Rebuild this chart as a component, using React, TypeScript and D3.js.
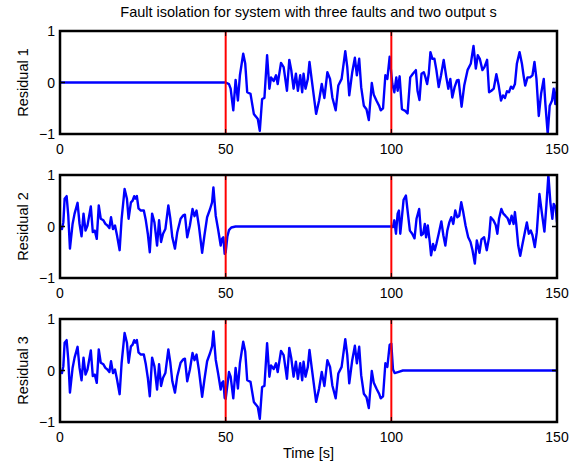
import React from "react"
import * as d3 from "d3"

type Pt = [number, number]

// noise seen in residual 2 and residual 3 before the first fault
const noiseA: Pt[] = [
  [0, -0.01], [0.6, -0.05], [1.0, 0.08], [1.4, 0.54], [2.0, 0.59], [2.5, 0.21],
  [3.0, -0.43], [3.8, 0.05], [4.4, 0.25], [5.3, 0.46], [5.9, 0.05], [6.5, -0.19],
  [7.1, 0.25], [7.7, -0.08], [8.3, 0.02], [9.3, 0.39], [9.9, -0.11], [10.5, -0.08],
  [11.1, -0.24], [11.7, 0.41], [12.3, 0.15], [13.1, 0.12], [13.7, 0.05], [14.3, 0.02],
  [14.9, -0.03], [15.4, 0.18], [16.0, -0.05], [16.6, 0.02], [17.2, -0.17], [18.0, -0.46],
  [18.6, 0.15], [19.5, 0.73], [20.2, 0.54], [20.7, 0.15], [21.4, 0.47], [21.9, 0.5],
  [22.4, 0.59], [22.7, 0.54], [23.2, 0.59], [23.7, 0.35], [24.4, 0.31], [25.3, 0.31],
  [25.9, 0.12], [26.5, -0.14], [27.1, -0.5], [27.8, 0.25], [28.5, 0.08], [29.3, -0.37],
  [29.9, 0.12], [30.5, -0.3], [31.1, -0.14], [31.8, -0.05], [32.7, 0.41], [33.3, 0.15],
  [33.9, -0.21], [34.7, -0.43], [35.4, -0.11], [36.4, 0.15], [37.1, 0.21], [37.7, 0.23],
  [38.4, -0.21], [39.2, 0.02], [40.0, 0.34], [40.6, 0.2], [41.2, 0.31], [41.9, 0.02],
  [42.9, -0.51], [43.6, -0.17], [44.4, 0.18], [45.3, 0.34], [45.9, 0.47], [46.3, 0.76],
  [47.0, 0.21], [47.7, -0.05], [48.5, -0.37], [48.9, -0.24], [49.3, -0.21], [49.7, -0.53],
]

// noise seen in residual 1 and residual 3 between the faults
const noiseB: Pt[] = [
  [51.0, -0.03], [51.5, -0.12], [52.3, -0.54], [53.0, 0.05], [53.7, -0.35], [54.3, 0.14],
  [55.3, 0.56], [55.9, 0.37], [56.5, -0.19], [57.5, -0.22], [58.5, -0.61], [59.7, -0.71],
  [60.3, -0.94], [61.0, -0.32], [61.7, -0.3], [62.5, 0.53], [63.2, -0.12], [63.7, 0.1],
  [64.5, 0.03], [65.2, 0.14], [65.7, -0.03], [66.7, 0.38], [67.5, 0.3], [68.5, -0.16],
  [69.2, 0.44], [69.8, 0.24], [70.5, -0.12], [71.2, 0.17], [71.8, -0.16], [72.5, 0.14],
  [73.1, -0.19], [73.5, 0.17], [74.1, -0.12], [74.8, 0.07], [75.3, 0.4], [76.0, 0.04],
  [77.3, -0.61], [78.2, -0.35], [79.0, -0.03], [79.8, -0.3], [80.7, 0.2], [81.5, 0.07],
  [82.2, -0.29], [83.2, -0.54], [84.0, -0.06], [85.0, 0.07], [86.1, 0.61], [86.7, 0.3],
  [87.3, -0.25], [88.2, 0.2], [89.0, 0.48], [89.6, 0.14], [90.3, 0.46], [90.9, -0.09],
  [91.7, -0.45], [92.5, -0.52], [93.2, -0.73], [94.1, -0.01], [94.7, -0.24], [95.5, -0.35],
  [96.3, -0.45], [96.8, -0.54], [97.5, -0.5], [98.2, 0.14], [98.8, 0.07], [99.5, 0.5],
]

const res1Late: Pt[] = [
  [100.3, -0.03], [100.9, -0.19], [101.5, 0.1], [101.9, -0.16], [102.5, 0.12], [103.2, -0.52],
  [104.2, -0.55], [104.9, -0.6], [105.7, 0.1], [106.5, 0.17], [107.4, 0.24], [107.9, -0.16],
  [108.5, -0.34], [109.1, 0.17], [109.8, 0.2], [110.3, 0.1], [110.8, -0.03], [111.3, 0.17],
  [111.8, 0.59], [112.4, 0.46], [113.0, 0.46], [113.6, 0.24], [114.3, -0.09], [115.0, 0.14],
  [115.8, 0.44], [116.6, 0.1], [117.2, -0.12], [117.8, 0.07], [118.4, -0.29], [119.1, -0.09],
  [119.8, 0.04], [120.3, 0.05], [121.2, -0.47], [122.0, -0.06], [123.0, 0.24], [124.0, 0.37],
  [124.8, 0.71], [125.5, 0.27], [126.1, 0.53], [126.7, 0.46], [127.5, 0.24], [128.1, 0.3],
  [128.9, 0.44], [129.5, -0.19], [130.2, -0.16], [130.9, -0.12], [131.7, 0.16], [132.4, -0.06],
  [133.1, -0.35], [133.7, -0.25], [134.3, -0.3], [134.9, -0.17], [135.5, -0.19], [136.1, -0.08],
  [136.7, -0.12], [137.3, -0.03], [137.9, 0.37], [138.7, 0.59], [139.4, 0.37], [139.9, 0.14],
  [140.4, -0.06], [141.1, 0.1], [141.9, 0.1], [142.6, 0.14], [143.2, 0.4], [143.8, 0.07],
  [144.5, -0.65], [145.2, -0.22], [146.0, 0.07], [146.5, -0.42], [147.2, -1.0], [147.8, -0.45],
  [148.5, -0.35], [149.0, -0.12], [149.5, -0.42], [150.0, -0.09],
]

const res2Late: Pt[] = [
  [100.5, -0.01], [100.9, 0.12], [101.4, -0.14], [101.9, 0.25], [102.3, 0.31], [102.7, -0.14],
  [103.1, 0.12], [103.7, 0.52], [104.4, 0.6], [104.9, 0.31], [105.6, -0.08], [106.3, -0.14],
  [107.0, -0.23], [107.6, 0.15], [108.4, 0.34], [109.0, -0.17], [109.6, -0.14], [110.1, 0.05],
  [110.5, -0.21], [111.0, 0.02], [111.6, -0.3], [112.0, -0.56], [112.6, -0.34], [113.1, -0.46],
  [113.6, -0.34], [114.3, -0.14], [115.1, 0.1], [115.7, -0.17], [116.3, -0.37], [116.9, -0.08],
  [117.5, 0.08], [118.1, 0.18], [118.7, 0.05], [119.3, 0.31], [119.9, 0.18], [120.5, 0.21],
  [121.1, 0.47], [121.7, 0.28], [122.4, 0.02], [123.2, -0.21], [123.9, -0.3], [124.5, -0.46],
  [125.2, -0.72], [125.8, -0.27], [126.6, -0.51], [127.2, -0.25], [128.0, -0.21], [128.8, -0.46],
  [129.5, -0.21], [130.0, 0.18], [130.8, 0.12], [131.5, 0.03], [132.0, -0.14], [132.5, 0.15],
  [133.2, 0.34], [133.8, 0.25], [134.4, 0.21], [135.1, 0.16], [135.7, 0.05], [136.3, 0.21],
  [136.9, 0.05], [137.3, 0.28], [137.7, 0.05], [138.3, -0.37], [138.9, -0.57], [139.5, -0.37],
  [140.3, -0.11], [140.9, 0.08], [141.5, -0.14], [142.1, -0.08], [142.6, -0.17], [143.3, -0.4],
  [143.9, -0.11], [144.7, 0.63], [145.4, 0.28], [146.2, -0.1], [146.8, 0.41], [147.4, 1.0],
  [148.0, 0.47], [148.6, 0.15], [149.0, 0.44], [149.6, 0.37], [150.0, 0.08],
]

// decay after a residual becomes insensitive to the fault
const res2Decay: Pt[] = [[50, -0.5], [50.5, -0.2], [51, -0.07], [51.7, -0.02], [53, 0], [100, 0]]
const res3Decay: Pt[] = [[100, 0.52], [100.5, 0.02], [101, -0.05], [102, -0.03], [103.5, 0], [150, 0]]

const residuals: { label: string; points: Pt[] }[] = [
  { label: "Residual 1", points: [[0, 0], [50, 0], ...noiseB, ...res1Late] },
  { label: "Residual 2", points: [...noiseA, ...res2Decay, ...res2Late] },
  { label: "Residual 3", points: [...noiseA, [50, -0.55], ...noiseB, ...res3Decay] },
]

const faultTimes = [50, 100]
const xTicks = [0, 50, 100, 150]
const yTicks = [-1, 0, 1]
const title = "Fault isolation for system with three faults and two output s"
const xLabel = "Time [s]"

const W = 576
const H = 465
const left = 60
const right = 557
const panelTop = [31, 175, 319]
const panelH = 103
const font = "'Liberation Sans', Arial, Helvetica, sans-serif"

const x = d3.scaleLinear().domain([0, 150]).range([left, right])

const Panel = ({ label, points, top, idx }: { label: string; points: Pt[]; top: number; idx: number }) => {
  const y = d3.scaleLinear().domain([-1, 1]).range([top + panelH, top])
  const line = d3
    .line<Pt>()
    .x(d => x(d[0]))
    .y(d => y(d[1]))
  const tick = 5
  return (
    <g>
      <defs>
        <clipPath id={`clip${idx}`}>
          <rect x={left} y={top - 1} width={right - left} height={panelH + 2} />
        </clipPath>
      </defs>
      <path
        d={line(points) || ""}
        fill="none"
        stroke="#0000ff"
        strokeWidth={2.4}
        strokeLinejoin="round"
        clipPath={`url(#clip${idx})`}
      />
      {faultTimes.map(t => (
        <line key={t} x1={x(t)} x2={x(t)} y1={top} y2={top + panelH} stroke="#ff0000" strokeWidth={2} />
      ))}
      {/* inward ticks */}
      {xTicks.map(t => (
        <g key={`xt${t}`}>
          <line x1={x(t)} x2={x(t)} y1={top + panelH} y2={top + panelH - tick} stroke="#000" strokeWidth={1} />
          <line x1={x(t)} x2={x(t)} y1={top} y2={top + tick} stroke="#000" strokeWidth={1} />
        </g>
      ))}
      {yTicks.map(v => (
        <g key={`yt${v}`}>
          <line x1={left} x2={left + tick} y1={y(v)} y2={y(v)} stroke="#000" strokeWidth={1.5} />
          <line x1={right} x2={right - tick} y1={y(v)} y2={y(v)} stroke="#000" strokeWidth={1.5} />
        </g>
      ))}
      <rect x={left} y={top} width={right - left} height={panelH} fill="none" stroke="#000" strokeWidth={2.5} />
      {xTicks.map(t => (
        <text key={`xl${t}`} x={x(t)} y={top + panelH + 20} textAnchor="middle" fontSize={14} fontFamily={font}>
          {t}
        </text>
      ))}
      {yTicks.map(v => (
        <text key={`yl${v}`} x={left - 5} y={y(v) + 5} textAnchor="end" fontSize={14} fontFamily={font}>
          {v < 0 ? `\u2212${-v}` : v}
        </text>
      ))}
      <text
        transform={`translate(${28}, ${top + panelH / 2}) rotate(-90)`}
        textAnchor="middle"
        fontSize={14.5}
        fontFamily={font}
      >
        {label}
      </text>
    </g>
  )
}

export default function App() {
  return (
    <svg width={W} height={H} style={{ position: "absolute", left: 0, top: 0, background: "#fff" }}>
      <rect width={W} height={H} fill="#fff" />
      <text x={(left + right) / 2} y={17} textAnchor="middle" fontSize={14.5} fontFamily={font}>
        {title}
      </text>
      {residuals.map((r, i) => (
        <Panel key={r.label} label={r.label} points={r.points} top={panelTop[i]} idx={i} />
      ))}
      <text x={(left + right) / 2} y={458} textAnchor="middle" fontSize={14.5} fontFamily={font}>
        {xLabel}
      </text>
    </svg>
  )
}
